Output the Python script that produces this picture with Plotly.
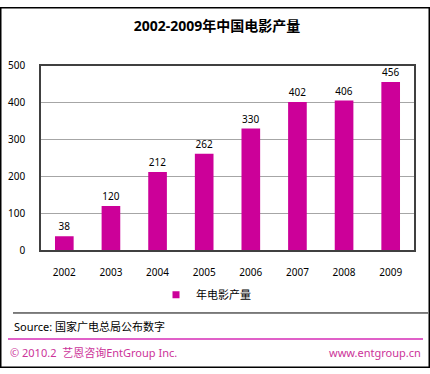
import plotly.graph_objects as go

years = ["2002", "2003", "2004", "2005", "2006", "2007", "2008", "2009"]
films = [38, 120, 212, 262, 330, 402, 406, 456]
y_ticks = [0, 100, 200, 300, 400, 500]
series_name = "年电影产量"
title = "2002-2009年中国电影产量"
source = "Source: 国家广电总局公布数字"
footer_left = "© 2010.2  艺恩咨询EntGroup Inc."
footer_right = "www.entgroup.cn"

W, H = 430, 374
FONT = "Noto Sans, Noto Sans CJK SC, sans-serif"
BAR = "#CC0099"

def px(x):
    return x / W

def py(y):
    return 1 - y / H

fig = go.Figure()
fig.add_trace(go.Bar(
    x=years, y=films, name=series_name, showlegend=False, legendgroup="s",
    marker=dict(color=BAR, line=dict(width=0)),
    text=[str(v) for v in films], textposition="outside",
    textfont=dict(size=10, color="#000000", family=FONT),
    cliponaxis=False, width=0.4,
))
# legend entry with a small square marker (no data points of its own)
fig.add_trace(go.Scatter(
    x=[None], y=[None], mode="markers", name=series_name, legendgroup="s",
    marker=dict(symbol="square", size=7, color=BAR),
))

fig.update_layout(
    width=W, height=H,
    margin=dict(l=0, r=0, t=0, b=0),
    paper_bgcolor="white", plot_bgcolor="white",
    font=dict(family=FONT, size=10, color="#000000"),
    showlegend=True,
    legend=dict(orientation="h", x=px(206), y=py(298), xanchor="center", yanchor="middle",
                font=dict(size=11, family=FONT), itemwidth=30),
    xaxis=dict(domain=[px(41), px(414)], showline=True, linecolor="#404040", linewidth=1.5,
               mirror=True, ticks="", tickfont=dict(size=10), ticklabelstandoff=12),
    yaxis=dict(domain=[py(252), py(61)], range=[0, 500], tickvals=y_ticks,
               showline=True, linecolor="#404040", linewidth=1.5, mirror=True,
               showgrid=True, gridcolor="#A6A6A6", gridwidth=1, zeroline=False,
               ticks="", tickfont=dict(size=10), ticklabelstandoff=12),
    title=dict(text="<b>" + title + "</b>", x=px(217), xanchor="center", y=py(26), yanchor="middle",
               font=dict(size=14, family=FONT, color="#000000")),
)

shapes = [
    dict(type="rect", xref="paper", yref="paper", x0=px(0.75), x1=px(429.25), y0=py(373.25), y1=py(0.75),
         line=dict(color="#000000", width=1.5)),
    dict(type="line", xref="paper", yref="paper", x0=px(13), x1=px(428), y0=py(317), y1=py(317),
         line=dict(color="#000000", width=1)),
    dict(type="line", xref="paper", yref="paper", x0=px(8), x1=px(423), y0=py(344), y1=py(344),
         line=dict(color="#E060C8", width=2)),
]
fig.update_layout(shapes=shapes)

fig.add_annotation(text=source, xref="paper", yref="paper", x=px(12), y=py(331), xanchor="left",
                   yanchor="middle", showarrow=False, font=dict(size=11, family=FONT, color="#000000"))
fig.add_annotation(text=footer_left, xref="paper", yref="paper", x=px(8), y=py(358), xanchor="left",
                   yanchor="middle", showarrow=False, font=dict(size=11, family=FONT, color="#CC3399"))
fig.add_annotation(text=footer_right, xref="paper", yref="paper", x=px(423), y=py(358), xanchor="right",
                   yanchor="middle", showarrow=False, font=dict(size=11, family=FONT, color="#CC3399"))

fig.write_html("out.html", config={"displayModeBar": False},
               post_script="document.body.style.margin='0';document.body.style.overflow='hidden';")
